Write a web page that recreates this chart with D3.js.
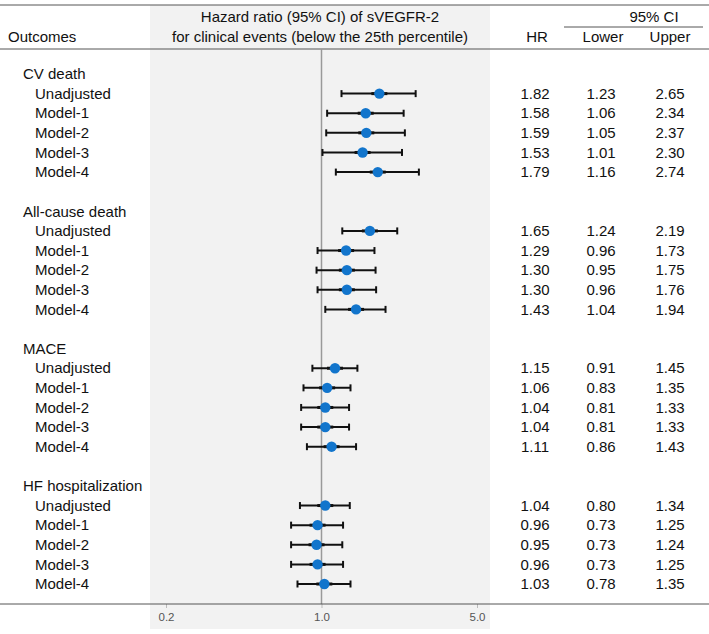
<!DOCTYPE html>
<html><head><meta charset="utf-8">
<script src="https://cdn.jsdelivr.net/npm/d3@7"></script>
<style>body{margin:0;background:#fff}svg{display:block;font-family:"Liberation Sans",Arial,sans-serif}</style>
</head><body><svg id="c" width="709" height="634"></svg>
<script>
const groups = ["CV death","All-cause death","MACE","HF hospitalization"];
const models = ["Unadjusted","Model-1","Model-2","Model-3","Model-4"];
const hr = [[1.82,1.58,1.59,1.53,1.79],[1.65,1.29,1.30,1.30,1.43],[1.15,1.06,1.04,1.04,1.11],[1.04,0.96,0.95,0.96,1.03]];
const lower = [[1.23,1.06,1.05,1.01,1.16],[1.24,0.96,0.95,0.96,1.04],[0.91,0.83,0.81,0.81,0.86],[0.80,0.73,0.73,0.73,0.78]];
const upper = [[2.65,2.34,2.37,2.30,2.74],[2.19,1.73,1.75,1.76,1.94],[1.45,1.35,1.33,1.33,1.43],[1.34,1.25,1.24,1.25,1.35]];
const ticks = [0.2,1.0,5.0];

const svg = d3.select("#c");
const x = d3.scaleLog().domain([0.2,5]).range([166,477]);
const rowY = d3.scaleLinear().domain([0,26]).range([74,584]);
const fs = 15;

// shaded panel
svg.append("rect").attr("x",150).attr("y",5).attr("width",340).attr("height",624).attr("fill","#f2f2f2");
// horizontal rules
svg.append("line").attr("x1",0).attr("x2",709).attr("y1",5).attr("y2",5).attr("stroke","#555").attr("stroke-width",1);
svg.append("line").attr("x1",0).attr("x2",709).attr("y1",49).attr("y2",49).attr("stroke","#555").attr("stroke-width",1);
svg.append("line").attr("x1",564).attr("x2",703).attr("y1",27).attr("y2",27).attr("stroke","#555").attr("stroke-width",1);
// reference line
svg.append("line").attr("x1",x(1)).attr("x2",x(1)).attr("y1",49).attr("y2",604).attr("stroke","#9a9a9a").attr("stroke-width",1.5);

// axis
const ax = svg.append("g").attr("transform","translate(0,604)")
  .call(d3.axisBottom(x).tickValues(ticks).tickFormat(d3.format(".1f")).tickSize(4));
ax.select(".domain").remove();
ax.selectAll(".tick line").attr("stroke","#bbb");
ax.selectAll(".tick text").attr("fill","#555").attr("font-size",11.5).attr("dy","0.9em").style("font-family","Liberation Sans, Arial");
svg.append("line").attr("x1",0).attr("x2",709).attr("y1",604).attr("y2",604).attr("stroke","#555").attr("stroke-width",1);

// headers
const hdr = (t,xx,yy,anchor)=>svg.append("text").attr("x",xx).attr("y",yy).attr("text-anchor",anchor).attr("font-size",fs).attr("fill","#111").text(t);
hdr("Outcomes",8,42,"start");
hdr("Hazard ratio (95% CI) of sVEGFR-2",320,22,"middle");
hdr("for clinical events (below the 25th percentile)",320,42,"middle");
hdr("HR",537,42,"middle");
hdr("95% CI",654,22,"middle");
hdr("Lower",603,42,"middle");
hdr("Upper",670,42,"middle");

const fmt = d3.format(".2f");
groups.forEach((g,gi)=>{
  const r0 = gi*7;
  svg.append("text").attr("x",23).attr("y",rowY(r0)).attr("dy","0.35em").attr("font-size",fs).attr("fill","#111").text(g);
  models.forEach((m,mi)=>{
    const y = rowY(r0+1+mi);
    svg.append("text").attr("x",35).attr("y",y).attr("dy","0.35em").attr("font-size",fs).attr("fill","#111").text(m);
    const gg = svg.append("g");
    gg.append("line").attr("x1",x(lower[gi][mi])).attr("x2",x(upper[gi][mi])).attr("y1",y).attr("y2",y).attr("stroke","#111").attr("stroke-width",2);
    [lower[gi][mi],upper[gi][mi]].forEach(v=>gg.append("line").attr("x1",x(v)).attr("x2",x(v)).attr("y1",y-3.5).attr("y2",y+3.5).attr("stroke","#111").attr("stroke-width",2));
    gg.append("line").attr("x1",x(hr[gi][mi])-8).attr("x2",x(hr[gi][mi])+8).attr("y1",y).attr("y2",y).attr("stroke","#111").attr("stroke-width",3);
    gg.append("circle").attr("cx",x(hr[gi][mi])).attr("cy",y).attr("r",5.2).attr("fill","#1275cc");
    [[hr,535],[lower,601],[upper,670]].forEach(([arr,cx])=>{
      svg.append("text").attr("x",cx).attr("y",y).attr("dy","0.35em").attr("text-anchor","middle").attr("font-size",fs).attr("fill","#111").text(fmt(arr[gi][mi]));
    });
  });
});
</script></body></html>
